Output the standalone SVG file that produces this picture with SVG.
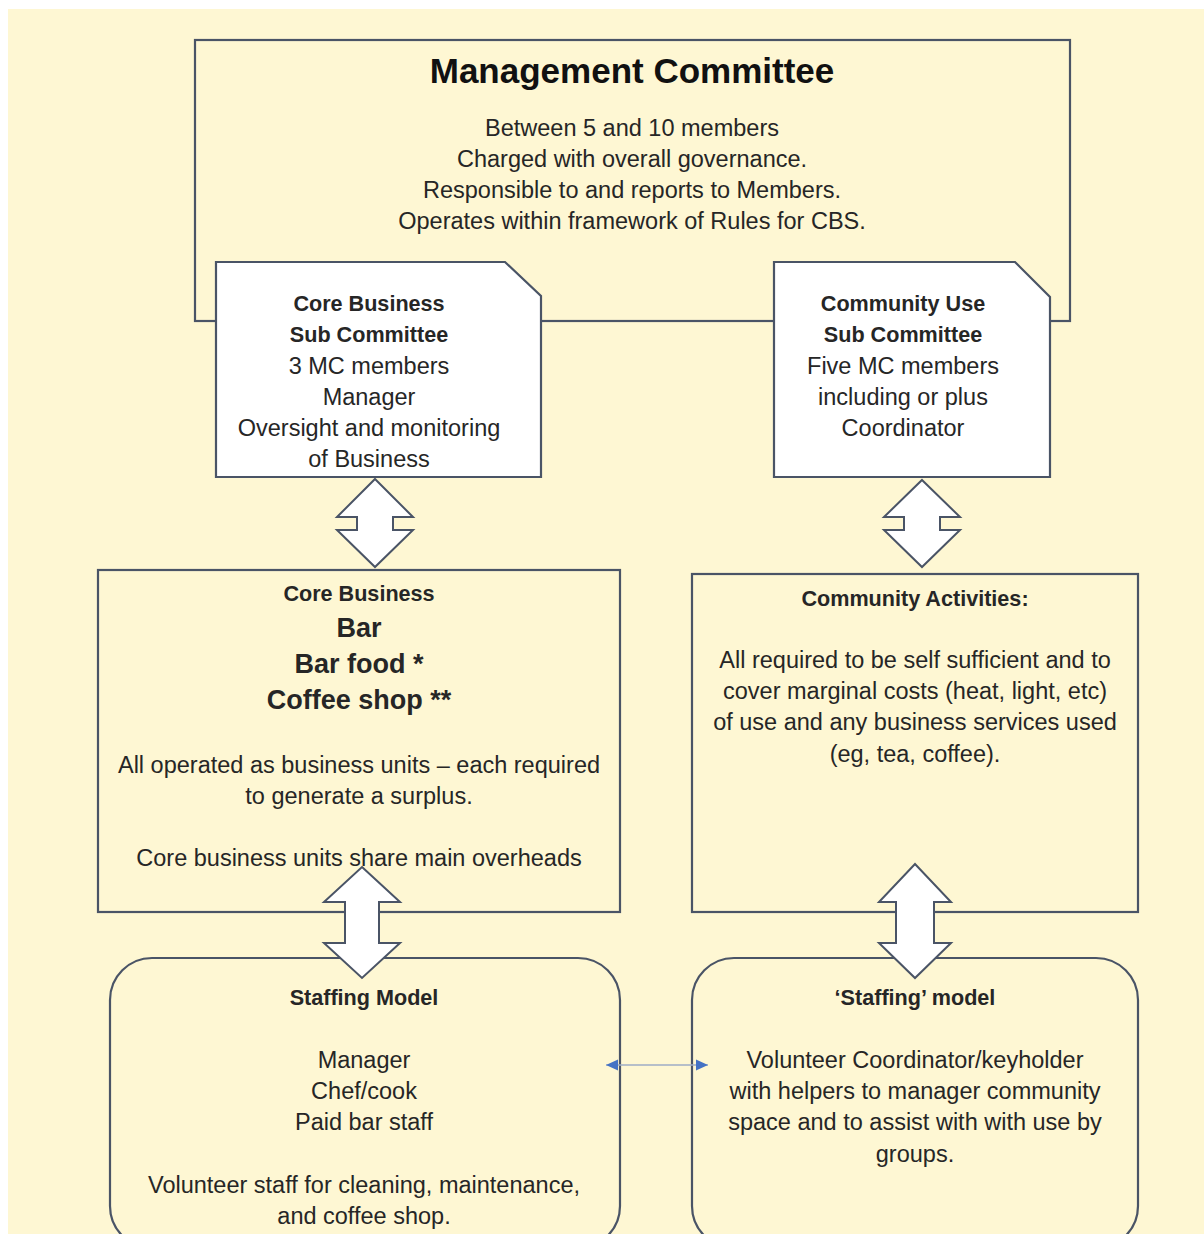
<svg xmlns="http://www.w3.org/2000/svg" width="1204" height="1234" viewBox="0 0 1204 1234">
<style>
.box{fill:none;stroke:#4a5466;stroke-width:2.2}
.wbox{fill:#ffffff;stroke:#4a5466;stroke-width:2.2}
.blk{fill:#ffffff;stroke:#4a5466;stroke-width:2;stroke-linejoin:miter}
text{font-family:"Liberation Sans",Arial,sans-serif;fill:#262626;text-anchor:middle}
.t{font-size:23.5px}
.h{font-size:21.6px;font-weight:bold}
.b{font-size:27px;font-weight:bold}
.title{font-size:35px;font-weight:bold;fill:#111111}
.link{stroke:#9eadc6;stroke-width:1.5;fill:none}
</style>
<defs>
<marker id="bh" viewBox="0 0 12 12" refX="12" refY="6" markerWidth="12" markerHeight="12" markerUnits="userSpaceOnUse" orient="auto-start-reverse">
<path d="M0,0.5 L12,6 L0,11.5 Z" fill="#4472c4"/>
</marker>
</defs>
<rect x="0" y="0" width="1204" height="1234" fill="#ffffff"/>
<rect x="8" y="9" width="1196" height="1225" fill="#fef7d3"/>

<g id="management-committee">
<rect class="box" x="195" y="40" width="875" height="281"/>
<text class="title" x="632" y="83">Management Committee</text>
<text class="t" x="632" y="136">Between 5 and 10 members</text>
<text class="t" x="632" y="167">Charged with overall governance.</text>
<text class="t" x="632" y="198">Responsible to and reports to Members.</text>
<text class="t" x="632" y="229">Operates within framework of Rules for CBS.</text>
</g>

<g id="core-business-sub-committee">
<path class="wbox" d="M216,262 L505,262 L541,296 L541,477 L216,477 Z"/>
<text class="h" x="369" y="311">Core Business</text>
<text class="h" x="369" y="342">Sub Committee</text>
<text class="t" x="369" y="374">3 MC members</text>
<text class="t" x="369" y="405">Manager</text>
<text class="t" x="369" y="436">Oversight and monitoring</text>
<text class="t" x="369" y="467">of Business</text>
</g>

<g id="community-use-sub-committee">
<path class="wbox" d="M774,262 L1015,262 L1050,297 L1050,477 L774,477 Z"/>
<text class="h" x="903" y="311">Community Use</text>
<text class="h" x="903" y="342">Sub Committee</text>
<text class="t" x="903" y="374">Five MC members</text>
<text class="t" x="903" y="405">including or plus</text>
<text class="t" x="903" y="436">Coordinator</text>
</g>

<g id="core-business">
<rect class="box" x="98" y="570" width="522" height="342"/>
<text class="h" x="359" y="601">Core Business</text>
<text class="b" x="359" y="637">Bar</text>
<text class="b" x="359" y="673">Bar food *</text>
<text class="b" x="359" y="709">Coffee shop **</text>
<text class="t" x="359" y="773">All operated as business units – each required</text>
<text class="t" x="359" y="804">to generate a surplus.</text>
<text class="t" x="359" y="866">Core business units share main overheads</text>
</g>

<g id="community-activities">
<rect class="box" x="692" y="574" width="446" height="338"/>
<text class="h" x="915" y="606">Community Activities:</text>
<text class="t" x="915" y="668">All required to be self sufficient and to</text>
<text class="t" x="915" y="699">cover marginal costs (heat, light, etc)</text>
<text class="t" x="915" y="730">of use and any business services used</text>
<text class="t" x="915" y="762">(eg, tea, coffee).</text>
</g>

<g id="staffing-model">
<rect class="box" x="110" y="958" width="510" height="290" rx="42" ry="42"/>
<text class="h" x="364" y="1005">Staffing Model</text>
<text class="t" x="364" y="1068">Manager</text>
<text class="t" x="364" y="1099">Chef/cook</text>
<text class="t" x="364" y="1130">Paid bar staff</text>
<text class="t" x="364" y="1193">Volunteer staff for cleaning, maintenance,</text>
<text class="t" x="364" y="1224">and coffee shop.</text>
</g>

<g id="staffing-model-community">
<rect class="box" x="692" y="958" width="446" height="290" rx="42" ry="42"/>
<text class="h" x="915" y="1005">‘Staffing’ model</text>
<text class="t" x="915" y="1068">Volunteer Coordinator/keyholder</text>
<text class="t" x="915" y="1099">with helpers to manager community</text>
<text class="t" x="915" y="1130">space and to assist with with use by</text>
<text class="t" x="915" y="1162">groups.</text>
</g>

<g id="connectors">
<path class="blk" d="M375,479 L413,517 L393,517 L393,530 L413,530 L375,567 L337,530 L357,530 L357,517 L337,517 Z"/>
<path class="blk" d="M922,480 L960,517 L940,517 L940,530 L960,530 L922,567 L884,530 L904,530 L904,517 L884,517 Z"/>
<path class="blk" d="M362,867 L400,902 L379,902 L379,943 L400,943 L362,978 L324,943 L345,943 L345,902 L324,902 Z"/>
<path class="blk" d="M915,864 L951,902 L934,902 L934,943 L951,943 L915,978 L879,943 L896,943 L896,902 L879,902 Z"/>
<line class="link" x1="606" y1="1065" x2="708" y2="1065" marker-start="url(#bh)" marker-end="url(#bh)"/>
</g>
</svg>
